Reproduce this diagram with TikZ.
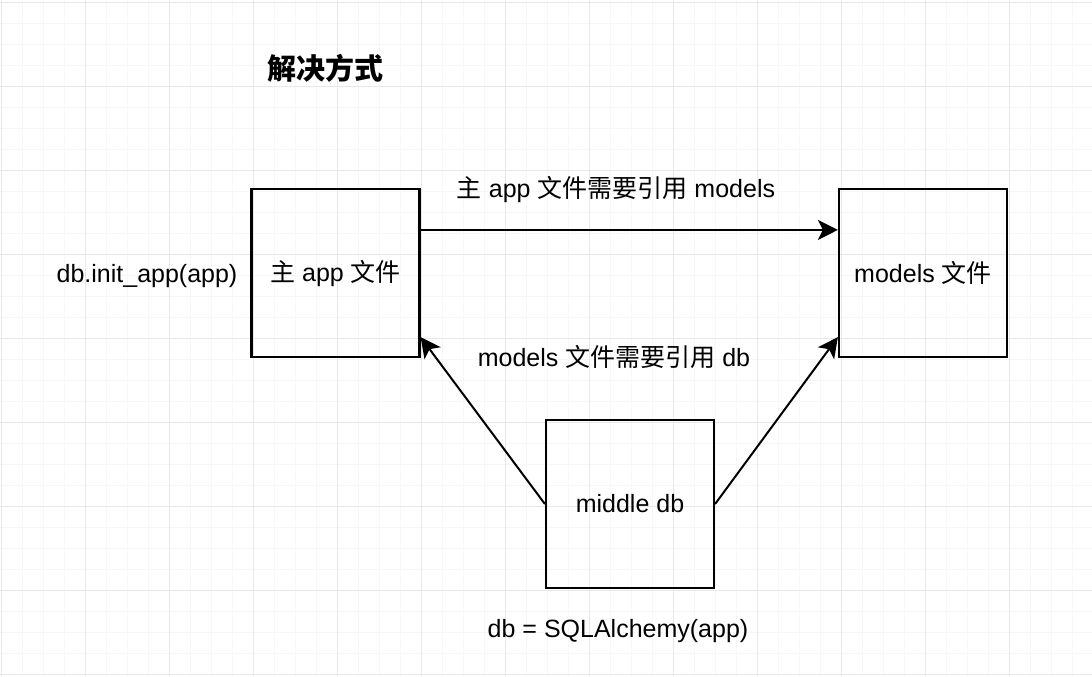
\documentclass[tikz,border=0pt]{standalone}
\usepackage{fontspec}
\setmainfont{Liberation Sans}
\newfontfamily\cjk{Noto Sans CJK SC}
\usetikzlibrary{arrows.meta}
\usetikzlibrary{positioning}
\definecolor{gridminor}{HTML}{F7F7F7}
\definecolor{gridmajor}{HTML}{E8E8E8}

\begin{document}
\begin{tikzpicture}[x=0.5pt, y=-0.5pt,
    box/.style={draw, line width=1.1pt, minimum width=84pt, minimum height=84pt, inner sep=0pt, font=\fontsize{12.5}{15}\selectfont},
    lbl/.style={inner sep=0pt, font=\fontsize{12.5}{15}\selectfont},
    link/.style={line width=1pt, -{Stealth[length=10pt, width=10pt, inset=2.5pt]}}]
  \useasboundingbox (0,0) rectangle (1092,676);
  \fill[white] (0,0) rectangle (1092,676);

  % background grid
  \foreach \x in {1,22,...,1092} \draw[gridminor, line width=0.5pt] (\x,0) -- (\x,676);
  \foreach \y in {2,23,...,676} \draw[gridminor, line width=0.5pt] (0,\y) -- (1092,\y);
  \foreach \x in {1,85,...,1092} \draw[gridmajor, line width=0.5pt] (\x,0) -- (\x,676);
  \foreach \y in {2,86,...,676} \draw[gridmajor, line width=0.5pt] (0,\y) -- (1092,\y);

  \node[lbl, font=\fontsize{14.5}{17}\selectfont\bfseries] (title) at (325,68) {\cjk 解决方式};

  \node[box] (app) at (335.5,273) {{\cjk 主} app {\cjk 文件}};
  \node[box] (models) at (923,273) {models {\cjk 文件}};
  \node[box] (middle) at (630,504) {middle db};

  \node[lbl] (initapp) at (147,276) {db.init\_app(app)};
  \node[lbl] (needmodels) at (616,189) {{\cjk 主} app {\cjk 文件需要引用} models};
  \node[lbl] (needdb) at (614,357) {models {\cjk 文件需要引用} db};
  \node[lbl] (sqla) at (618,631) {db = SQLAlchemy(app)};

  \draw[link] ([yshift=-21pt]app.north east) -- ([yshift=-21pt]models.north west);
  \draw[link] (middle.west) -- ([yshift=10.5pt]app.south east);
  \draw[link] (middle.east) -- ([yshift=10.5pt]models.south west);
\end{tikzpicture}
\end{document}
